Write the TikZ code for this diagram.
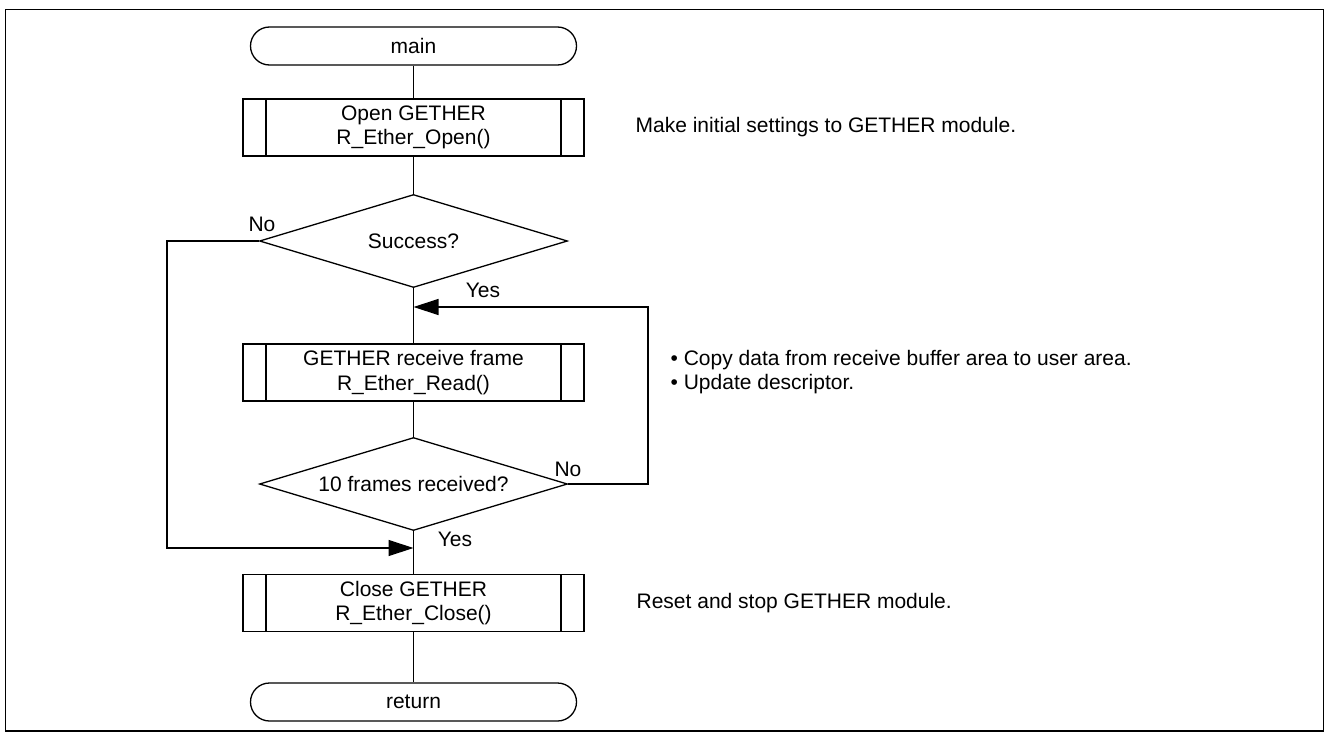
\documentclass[tikz,border=0pt]{standalone}
\usepackage{fontspec}
\setmainfont{Liberation Sans}
\usetikzlibrary{shapes.geometric,arrows.meta}
\begin{document}
\begin{tikzpicture}[x=1pt,y=-1pt,
  line width=1.3pt,
  every node/.style={font=\fontsize{21}{24.5}\selectfont},
  term/.style={draw, rounded corners=19pt, minimum width=326pt, minimum height=38pt, inner sep=0pt},
  sub/.style={draw, minimum width=341pt, minimum height=57pt, inner sep=0pt, align=center,
    path picture={\draw[line width=1.3pt]
      ([xshift=23pt]path picture bounding box.north west) -- ([xshift=23pt]path picture bounding box.south west)
      ([xshift=-23pt]path picture bounding box.north east) -- ([xshift=-23pt]path picture bounding box.south east);}},
  dec/.style={draw, diamond, aspect=3.3, minimum width=308pt, minimum height=93pt, inner sep=0pt},
  lbl/.style={inner sep=0pt},
  note/.style={anchor=west, inner sep=0pt, align=left},
  arr/.style={-{Triangle[length=25pt,width=16pt]}}
]
\useasboundingbox (0,0) rectangle (1326,736);
\draw[line width=1.5pt] (5.5,9.5) rectangle (1323.5,731);

\node[term] (start) at (413.5,46) {main};
\node[sub] (open) at (413.5,127.5) {Open GETHER\\R\_Ether\_Open()};
\node[dec] (succ) at (413.5,241) {Success?};
\node[sub] (read) at (413.5,372.5) {GETHER receive frame\\R\_Ether\_Read()};
\node[dec] (cnt) at (413.5,484) {10 frames received?};
\node[sub] (close) at (413.5,603) {Close GETHER\\R\_Ether\_Close()};
\node[term] (ret) at (413.5,702) {return};

\coordinate (j1) at (413.5,307);
\coordinate (j2) at (413.5,548);
\coordinate (lft) at (167,0);
\coordinate (rgt) at (648,0);

\draw (start) -- (open);
\draw (open) -- (succ);
\draw (succ) -- (read);
\draw (read) -- (cnt);
\draw (cnt) -- (close);
\draw (close) -- (ret);
\draw[arr] (succ.west) -- (succ.west -| lft) -- (lft |- j2) -- (j2);
\draw[arr] (cnt.east) -- (cnt.east -| rgt) -- (rgt |- j1) -- (j1);

\node[lbl] (no1) at (262,224) {No};
\node[lbl] (yes1) at (483,290) {Yes};
\node[lbl] (no2) at (568,469) {No};
\node[lbl] (yes2) at (455,539) {Yes};

\node[note] (n1) at (635,127.5) {Make initial settings to GETHER module.};
\node[note] (n2) at (670,372) {• Copy data from receive buffer area to user area.\\• Update descriptor.};
\node[note] (n3) at (636,603) {Reset and stop GETHER module.};
\end{tikzpicture}
\end{document}
